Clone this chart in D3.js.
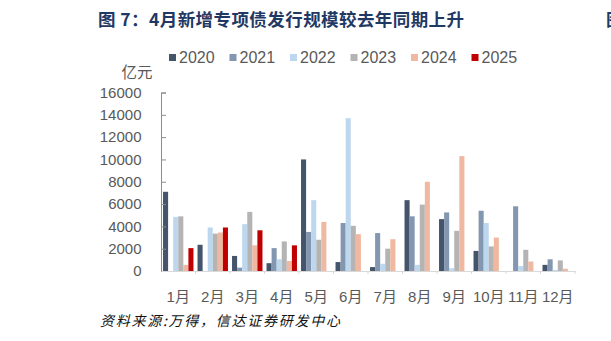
<!DOCTYPE html>
<html>
<head>
<meta charset="utf-8">
<script src="https://cdn.jsdelivr.net/npm/d3@7"></script>
<style>
  html, body { margin: 0; padding: 0; background: #fff; overflow: hidden; }
  svg { display: block; }
</style>
</head>
<body>
<div id="chart"></div>
<script>
// Monthly new special-purpose bond issuance, 100 million yuan
const months = ["1月","2月","3月","4月","5月","6月","7月","8月","9月","10月","11月","12月"];
const years = ["2020","2021","2022","2023","2024","2025"];
const v2020 = [7100, 2350, 1350, 700, 10000, 800, 350, 6350, 4650, 1800, 0, 550];
const v2021 = [0, 0, 300, 2050, 3500, 4300, 3400, 4900, 5250, 5400, 5800, 1050];
const v2022 = [4850, 3900, 4200, 1050, 6350, 13700, 650, 550, 250, 4300, 450, 100];
const v2023 = [4900, 3350, 5300, 2650, 2800, 4050, 2000, 5950, 3600, 2200, 1900, 950];
const v2024 = [550, 3450, 2300, 900, 4400, 3300, 2850, 8000, 10300, 3000, 850, 200];
const v2025 = [2050, 3900, 3650, 2300];
const yTicks = [0, 2000, 4000, 6000, 8000, 10000, 12000, 14000, 16000];
const colors = ["#44546A", "#8497B0", "#BDD7EE", "#B4B4B4", "#F0B8A0", "#C00000"];

const seriesValues = [v2020, v2021, v2022, v2023, v2024, v2025];
const rows = [];
years.forEach((yr, i) => {
  seriesValues[i].forEach((v, m) => rows.push({ year: yr, month: months[m], value: v, color: colors[i] }));
});

const W = 611, H = 341;
const svg = d3.select("#chart").append("svg").attr("width", W).attr("height", H);

const latin = "'Liberation Sans', Arial, 'Noto Sans CJK SC', sans-serif";
const cjk = "'Noto Sans CJK SC', sans-serif";

// Title
svg.append("text")
  .attr("x", 98).attr("y", 25.5)
  .attr("font-family", cjk).attr("font-weight", "bold").attr("font-size", 17.5)
  .attr("fill", "#1F3864")
  .attr("textLength", 366).attr("lengthAdjust", "spacing")
  .text("图 7：4月新增专项债发行规模较去年同期上升");
// Edge of the neighbouring figure's title
svg.append("text")
  .attr("x", 606).attr("y", 25.5)
  .attr("font-family", cjk).attr("font-weight", "bold").attr("font-size", 17.5)
  .attr("fill", "#1F3864")
  .text("图");

const x0 = d3.scaleBand().domain(months).range([161, 575]).padding(0);
const x1 = d3.scaleBand().domain(years).range([0, x0.bandwidth()]).paddingInner(0).paddingOuter(0.4);
const y = d3.scaleLinear().domain([0, 16000]).range([271, 92.5]);

// Bars
svg.append("g").selectAll("rect").data(rows).join("rect")
  .attr("x", d => x0(d.month) + x1(d.year))
  .attr("width", x1.bandwidth())
  .attr("y", d => y(d.value))
  .attr("height", d => y(0) - y(d.value))
  .attr("fill", d => d.color);

// Y axis: ticks point inward
const yAxis = d3.axisLeft(y).tickValues(yTicks).tickSize(-5).tickPadding(19.5).tickFormat(d3.format("d"));
const gy = svg.append("g").attr("transform", "translate(161,0)").call(yAxis);
gy.select(".domain").attr("stroke", "#8C8C8C").attr("stroke-width", 1);
gy.selectAll(".tick line").attr("stroke", "#8C8C8C");
gy.selectAll(".tick text")
  .attr("font-family", latin).attr("font-size", 15).attr("fill", "#595959");

// X axis
const xAxis = d3.axisBottom(x0).tickSize(0).tickPadding(20);
const gx = svg.append("g").attr("transform", "translate(0,271)").call(xAxis);
gx.select(".domain").attr("stroke", "#D9D9D9").attr("stroke-width", 1);
gx.selectAll(".tick text")
  .attr("font-family", latin).attr("font-size", 15).attr("fill", "#595959");
// Category separators
gx.append("g").selectAll("line").data(months).join("line")
  .attr("x1", d => x0(d) + x0.bandwidth()).attr("x2", d => x0(d) + x0.bandwidth())
  .attr("y1", 0).attr("y2", 3)
  .attr("stroke", "#D9D9D9");

// Unit label
svg.append("text")
  .attr("x", 137).attr("y", 78).attr("text-anchor", "middle")
  .attr("font-family", cjk).attr("font-size", 15.5).attr("fill", "#595959")
  .text("亿元");

// Legend
const legend = svg.append("g").selectAll("g").data(years).join("g")
  .attr("transform", (d, i) => `translate(${169 + i * 60.5},0)`);
legend.append("rect")
  .attr("x", 0).attr("y", 54).attr("width", 7).attr("height", 7)
  .attr("fill", (d, i) => colors[i]);
legend.append("text")
  .attr("x", 10).attr("y", 63.3)
  .attr("font-family", latin).attr("font-size", 16).attr("fill", "#595959")
  .text(d => d);

// Source note
svg.append("text")
  .attr("x", 100).attr("y", 326)
  .attr("font-family", cjk).attr("font-size", 14).attr("font-style", "italic")
  .attr("fill", "#111")
  .attr("textLength", 240).attr("lengthAdjust", "spacing")
  .text("资料来源:万得，信达证券研发中心");
</script>
</body>
</html>
